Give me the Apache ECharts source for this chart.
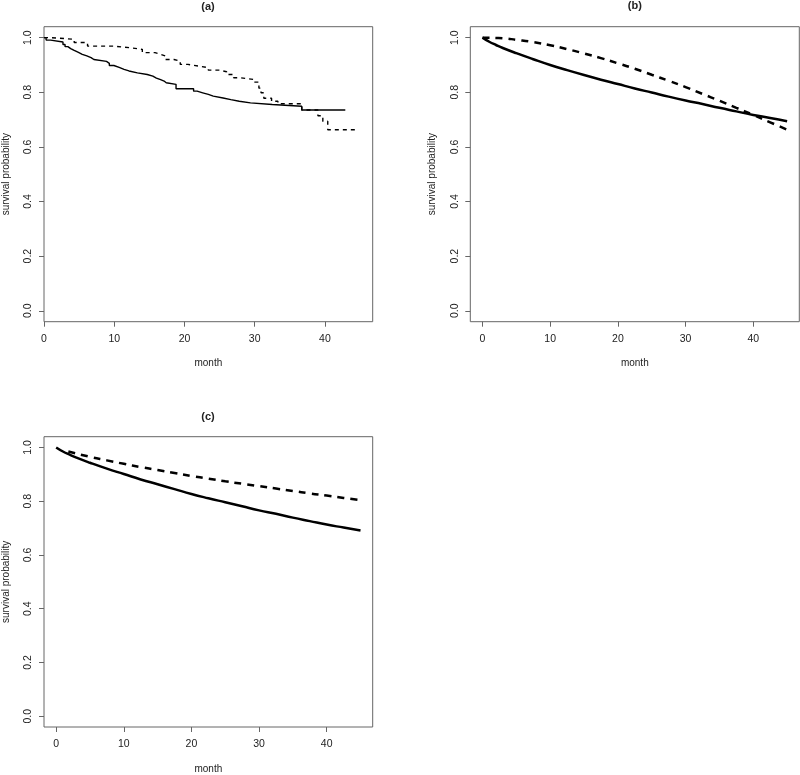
<!DOCTYPE html>
<html>
<head>
<meta charset="utf-8">
<script src="https://cdn.jsdelivr.net/npm/echarts@6/dist/echarts.min.js"></script>
<style>html,body{margin:0;padding:0;background:#fff}#c{width:800px;height:775px}</style>
</head>
<body>
<div id="c"></div>
<script>
// ---- data ----
const panelTitles = ['(a)', '(b)', '(c)'];
const xTicks = [0, 10, 20, 30, 40];
const yTicks = [0, 0.2, 0.4, 0.6, 0.8, 1.0];

// (a) Kaplan-Meier step curves
const aSolidMonth = [0, 0.3, 0.95, 2.7, 3.0, 3.4, 3.8, 4.3, 4.9, 5.45, 6.1, 6.7, 7.1, 8.9, 9.3, 9.95, 10.7, 11.4, 12.1, 13.3, 14.7, 15.5, 16.0, 16.6, 17.1, 17.4, 18.8, 21.3, 21.8, 22.6, 23.4, 24.1, 25.5, 26.6, 27.8, 29.4, 32.5, 36.7, 42.9];
const aSolidSurv  = [1, 0.991, 0.984, 0.975, 0.967, 0.960, 0.953, 0.946, 0.939, 0.933, 0.927, 0.920, 0.913, 0.906, 0.898, 0.891, 0.884, 0.878, 0.871, 0.865, 0.859, 0.852, 0.846, 0.841, 0.835, 0.829, 0.813, 0.804, 0.798, 0.792, 0.786, 0.779, 0.773, 0.767, 0.761, 0.755, 0.749, 0.735, 0.735];
const aDashMonth = [0, 1.0, 4.3, 6.2, 9.9, 12.2, 14.0, 15.8, 16.6, 17.3, 18.5, 19.4, 20.5, 22.0, 23.4, 25.0, 26.0, 27.0, 28.0, 29.8, 30.6, 30.9, 31.3, 32.4, 33.3, 36.7, 39.0, 39.7, 40.4, 44.5];
const aDashSurv  = [1, 0.994, 0.982, 0.969, 0.963, 0.957, 0.945, 0.939, 0.933, 0.920, 0.914, 0.902, 0.896, 0.890, 0.881, 0.875, 0.865, 0.853, 0.847, 0.837, 0.815, 0.798, 0.778, 0.767, 0.758, 0.735, 0.714, 0.694, 0.663, 0.663];

// (b) smooth fitted curves
const bMonth     = [0, 1, 2, 3, 5, 7.5, 10, 12.5, 15, 17.5, 20, 22.5, 25, 27.5, 30, 32.5, 35, 37.5, 40, 42.5, 45];
const bSolidSurv = [1, 0.985, 0.973, 0.962, 0.943, 0.921, 0.900, 0.881, 0.863, 0.846, 0.830, 0.814, 0.799, 0.784, 0.770, 0.757, 0.743, 0.730, 0.717, 0.706, 0.694];
const bDashSurv  = [1, 0.9995, 0.999, 0.998, 0.992, 0.9835, 0.972, 0.958, 0.942, 0.925, 0.906, 0.886, 0.864, 0.842, 0.819, 0.794, 0.769, 0.743, 0.717, 0.690, 0.663];

// (c) smooth fitted curves
const cSolidMonth = [0, 1, 2, 3, 5, 7.5, 10, 12.5, 15, 17.5, 20, 22.5, 25, 27.5, 30, 32.5, 35, 37.5, 40, 42.5, 45];
const cSolidSurv  = [1, 0.985, 0.973, 0.962, 0.943, 0.921, 0.901, 0.881, 0.863, 0.845, 0.827, 0.811, 0.796, 0.781, 0.766, 0.753, 0.739, 0.726, 0.713, 0.702, 0.691];
const cDashMonth  = [1.8, 5, 7.5, 10, 12.5, 15, 17.5, 20, 22.5, 25, 27.5, 30, 32.5, 35, 37.5, 40, 42.5, 45];
const cDashSurv   = [0.985, 0.965, 0.952, 0.939, 0.927, 0.916, 0.905, 0.894, 0.884, 0.874, 0.865, 0.856, 0.847, 0.838, 0.829, 0.821, 0.812, 0.804];

const zip = (xs, ys) => xs.map((x, i) => [x, ys[i]]);

const FONT = '"Liberation Sans", Arial, sans-serif';
const TXT = '#222';
const BOX = '#666';

const grids = [
  { left: 43.3, top: 26.7, width: 329.4, height: 295, xmin: 0, titleTop: 1 },
  { left: 470.3, top: 26.7, width: 329, height: 295, xmin: -1.8, titleTop: 0.5 },
  { left: 43.3, top: 436.7, width: 329.4, height: 294.3, xmin: -1.8, titleTop: 411 }
];

const option = {
  animation: false,
  backgroundColor: '#fff',
  title: grids.map((g, i) => ({
    text: panelTitles[i],
    left: g.left + g.width / 2,
    top: g.titleTop,
    padding: 0,
    textAlign: 'center',
    textStyle: { fontFamily: FONT, fontSize: 11, fontWeight: 'bold', color: TXT }
  })),
  grid: grids.map(g => ({
    left: g.left, top: g.top, width: g.width, height: g.height,
    show: true, borderColor: BOX, borderWidth: 1, backgroundColor: 'transparent',
    containLabel: false
  })),
  xAxis: grids.map((g, i) => ({
    type: 'value', gridIndex: i, min: g.xmin, max: 46.8,
    name: 'month', nameLocation: 'middle', nameGap: 37,
    nameTextStyle: { fontFamily: FONT, fontSize: 10, color: TXT },
    axisLine: { show: false, onZero: false },
    axisTick: { show: true, inside: false, length: 5, customValues: xTicks, lineStyle: { color: BOX } },
    axisLabel: { customValues: xTicks, margin: 12, fontFamily: FONT, fontSize: 10.5, color: TXT },
    splitLine: { show: false }
  })),
  yAxis: grids.map((g, i) => ({
    type: 'value', gridIndex: i, min: -0.04, max: 1.04,
    name: 'survival probability', nameLocation: 'middle', nameGap: 33,
    nameTextStyle: { fontFamily: FONT, fontSize: 10, color: TXT },
    axisLine: { show: false, onZero: false },
    axisTick: { show: true, inside: false, length: 5, customValues: yTicks, lineStyle: { color: BOX } },
    axisLabel: { customValues: yTicks, rotate: 90, margin: 10, fontFamily: FONT, fontSize: 10.5, color: TXT,
      formatter: v => v.toFixed(1) },
    splitLine: { show: false }
  })),
  series: [
    { type: 'line', xAxisIndex: 0, yAxisIndex: 0, step: 'end', showSymbol: false,
      data: zip(aDashMonth, aDashSurv), lineStyle: { color: '#000', width: 1.4, type: [4, 4] } },
    { type: 'line', xAxisIndex: 0, yAxisIndex: 0, step: 'end', showSymbol: false,
      data: zip(aSolidMonth, aSolidSurv), lineStyle: { color: '#000', width: 1.4 } },
    { type: 'line', xAxisIndex: 1, yAxisIndex: 1, smooth: true, showSymbol: false,
      data: zip(bMonth, bSolidSurv), lineStyle: { color: '#000', width: 2.5 } },
    { type: 'line', xAxisIndex: 1, yAxisIndex: 1, smooth: true, showSymbol: false,
      data: zip(bMonth, bDashSurv), lineStyle: { color: '#000', width: 2.5, type: [7, 6] } },
    { type: 'line', xAxisIndex: 2, yAxisIndex: 2, smooth: true, showSymbol: false,
      data: zip(cSolidMonth, cSolidSurv), lineStyle: { color: '#000', width: 2.5 } },
    { type: 'line', xAxisIndex: 2, yAxisIndex: 2, smooth: true, showSymbol: false,
      data: zip(cDashMonth, cDashSurv), lineStyle: { color: '#000', width: 2.5, type: [7, 6] } }
  ]
};

const chart = echarts.init(document.getElementById('c'), null, { renderer: 'canvas' });
chart.setOption(option);
</script>
</body>
</html>
